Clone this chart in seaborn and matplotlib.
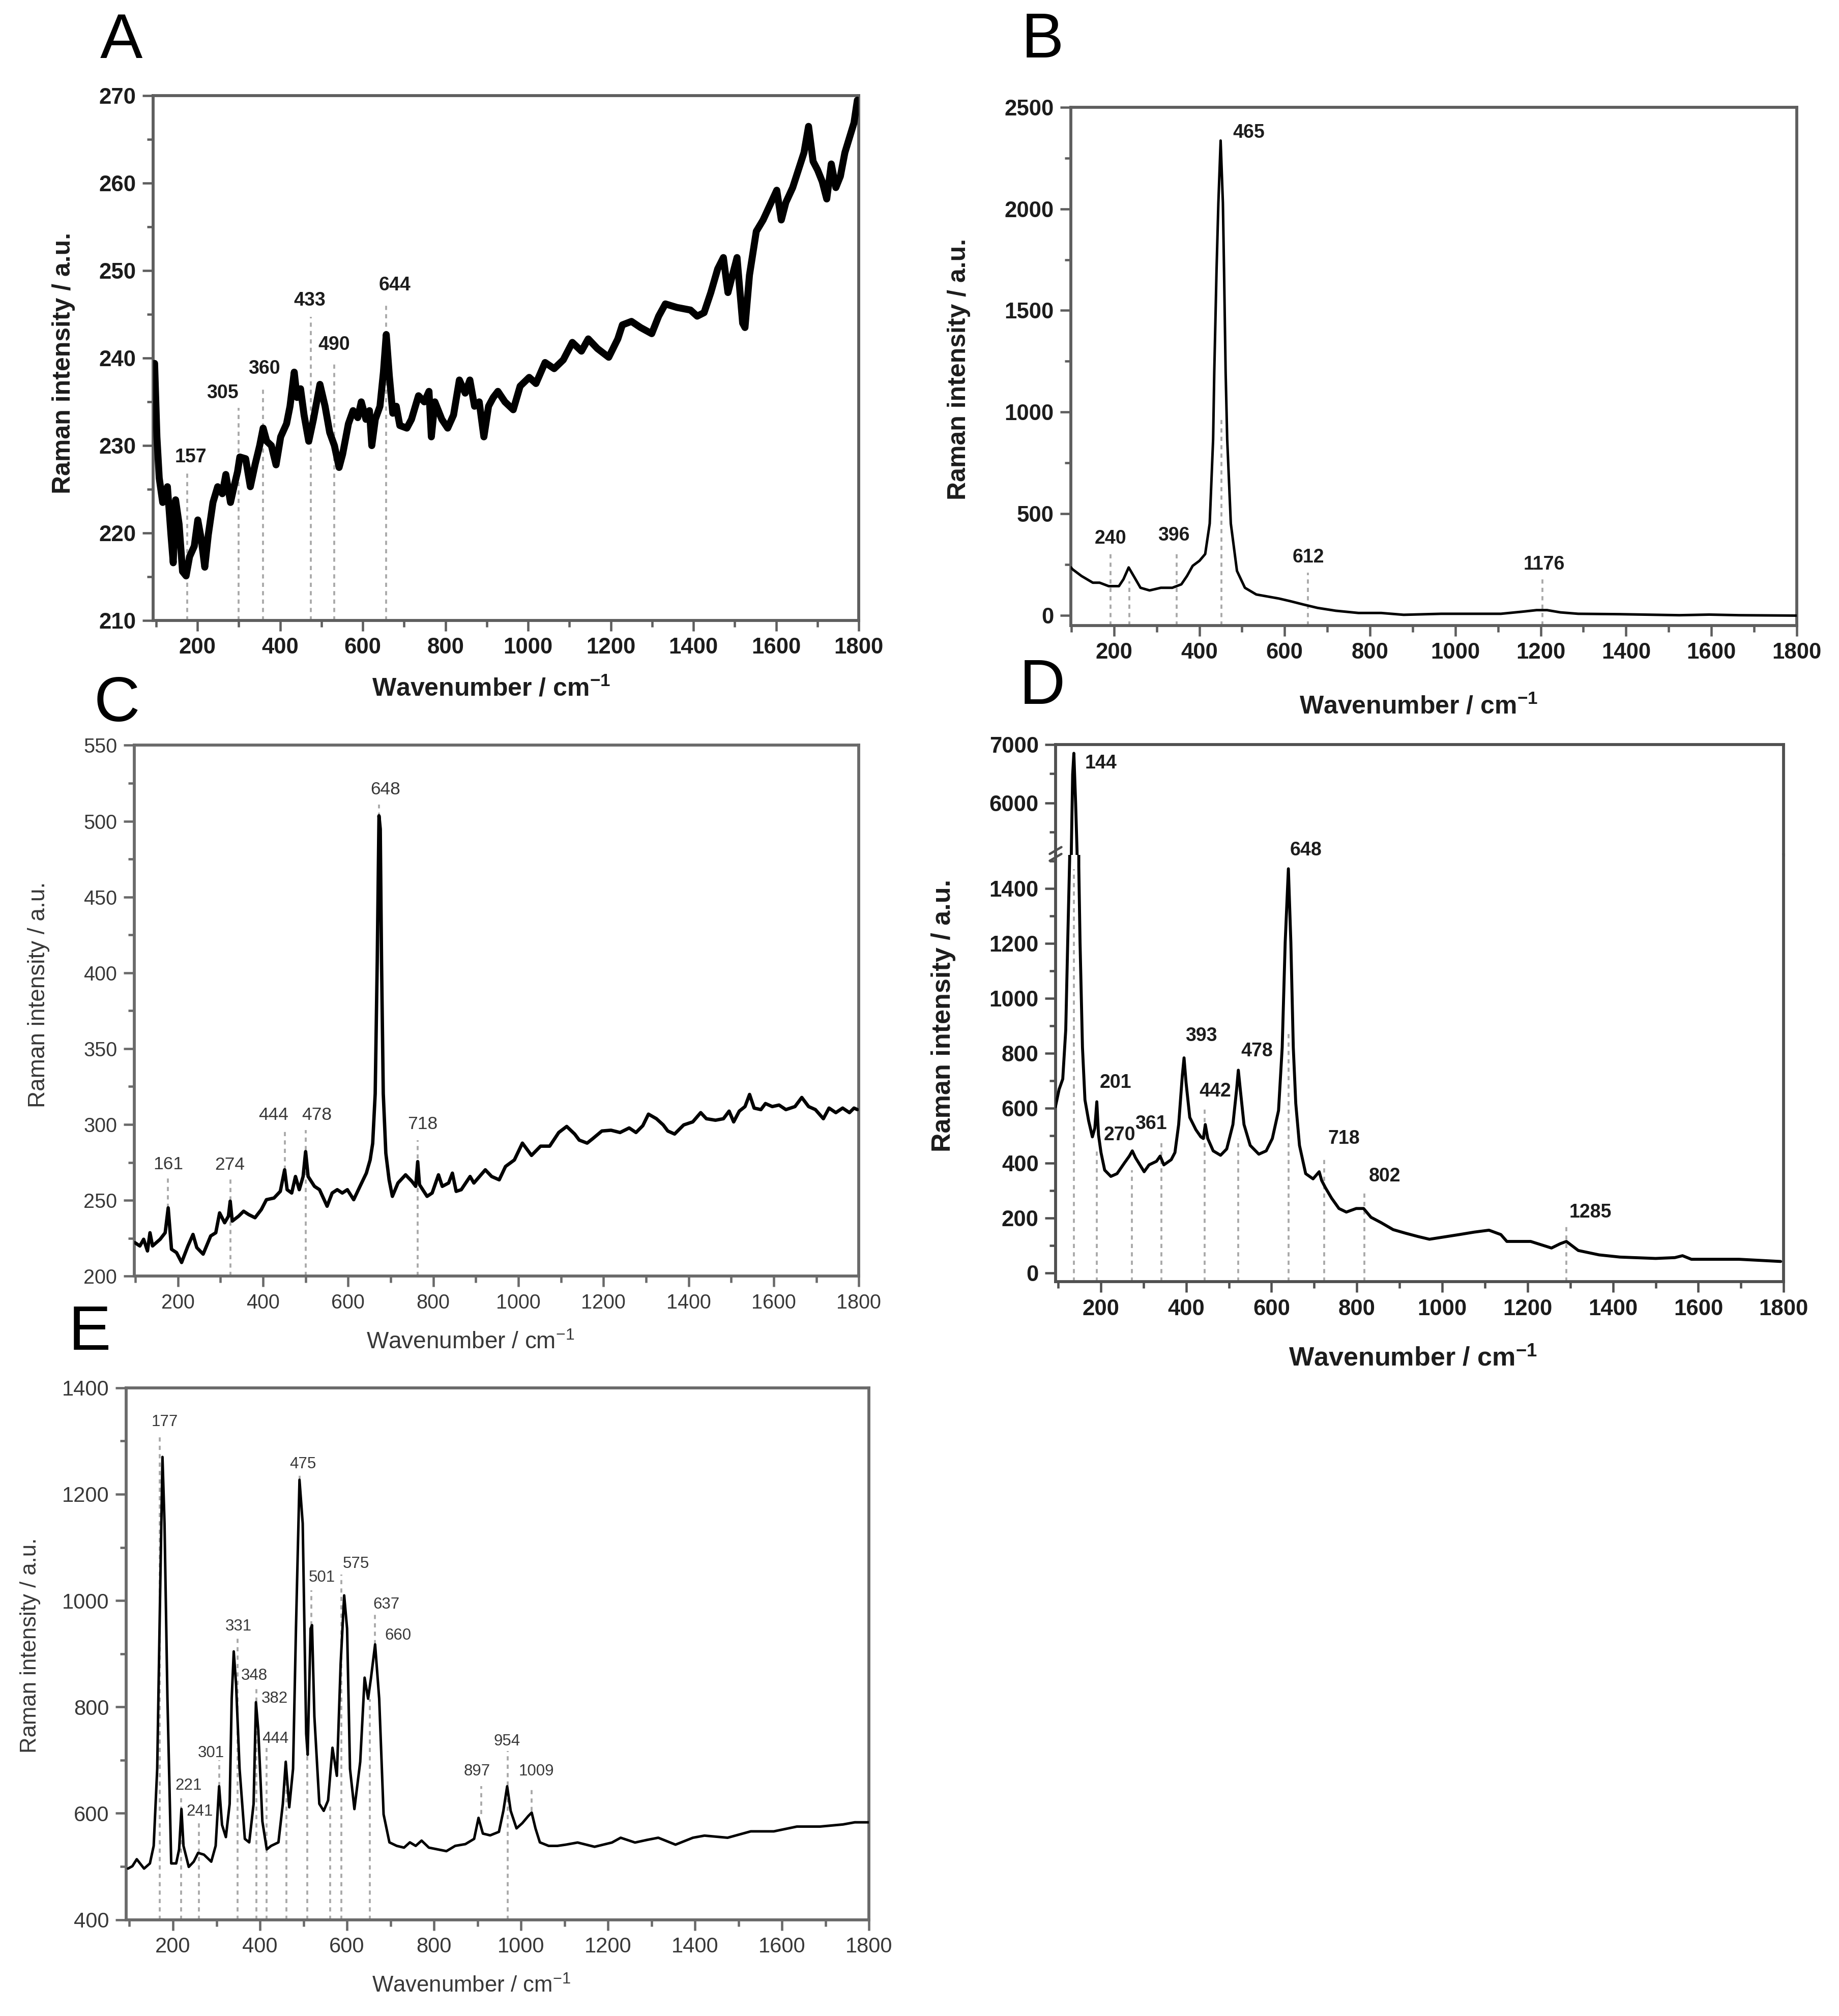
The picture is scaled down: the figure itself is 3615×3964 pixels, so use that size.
import matplotlib
matplotlib.use("Agg")
import matplotlib.pyplot as plt
from matplotlib.ticker import MultipleLocator
import pandas as pd
import seaborn as sns

# ---------------- data ----------------
# Panel A
A_x = [96.4, 102, 107.6, 116, 127.4, 136, 141.5, 147.2, 155.7, 164, 172.6, 181, 192.4, 200.9, 209.3,
       217.8, 226.3, 237.6, 249, 260.2, 268.7, 280, 288.4, 297, 302.6, 316.7, 328, 339.3, 350.6, 359,
       367.6, 378.9, 390.2, 401.4, 415.6, 424, 434.2, 441, 449.5, 458, 469.3, 480.6, 496.4, 508.8, 520,
       531.4, 542.7, 551.2, 565.3, 576.6, 587.9, 596.4, 607.7, 616.2, 621.8, 630.3, 641.6, 650, 656.8,
       664.2, 672.6, 681, 689.6, 706.6, 717.8, 734.8, 748.9, 760.2, 765.9, 774.4, 791.3, 805.4, 819.6,
       833.7, 847.8, 859.1, 870.4, 881.7, 893, 904.3, 915.6, 926.9, 943.9, 964, 980.7, 1002.6, 1019,
       1041, 1063, 1085, 1107, 1129, 1145.5, 1167.5, 1195, 1217, 1228, 1250, 1272, 1299, 1315.8, 1332,
       1359.7, 1392.7, 1409, 1425.7, 1442, 1458.6, 1472.4, 1483.4, 1494.4, 1505.4, 1519, 1524.6, 1535.5,
       1552, 1568.5, 1585, 1601.5, 1612.5, 1623.5, 1640, 1656.4, 1667.4, 1678.4, 1689.4, 1700.4, 1711.4,
       1722.4, 1733.4, 1744.4, 1755.4, 1766.3, 1777.3, 1788.3, 1796.5]
A_y = [239.4, 231.0, 226.3, 223.5, 225.3, 219.8, 216.6, 223.8, 221.0, 215.6, 215.1, 217.3, 218.5, 221.5, 219.3,
       216.1, 219.8, 223.5, 225.3, 224.5, 226.7, 223.5, 225.3, 227.0, 228.7, 228.5, 225.3, 227.8, 230.0, 232.0,
       230.5, 230.0, 227.8, 231.0, 232.5, 234.5, 238.4, 235.5, 236.5, 233.5, 230.5, 233.0, 237.0, 234.5, 231.5,
       230.0, 227.5, 229.0, 232.5, 234.0, 233.2, 235.0, 233.0, 234.0, 230.0, 233.0, 234.5, 238.4, 242.7,
       238.0, 233.7, 234.5, 232.3, 232.0, 233.0, 235.7, 235.0, 236.2, 231.0, 235.0, 233.0, 232.0, 233.5,
       237.5, 236.0, 237.5, 234.5, 235.0, 231.0, 234.5, 235.5, 236.2, 235.0, 234.1, 236.8, 237.8, 237.1,
       239.5, 238.8, 239.8, 241.8, 240.8, 242.2, 241.1, 240.1, 242.2, 243.8, 244.2, 243.5, 242.8, 244.8, 246.2,
       245.8, 245.5, 244.8, 245.2, 247.5, 250.2, 251.5, 247.5, 249.5, 251.5, 244.0, 243.5, 249.5,
       254.5, 255.8, 257.5, 259.2, 255.8, 257.8, 259.5, 261.9, 263.5, 266.5, 262.5, 261.5, 260.2,
       258.2, 262.2, 259.5, 260.8, 263.5, 265.2, 266.9, 269.5]
A_lab_text = ["157", "305", "360", "433", "490", "644"]
A_lab_x = [184, 261, 362, 472, 531, 677]
A_lab_y = [228.7, 236.0, 238.8, 246.6, 241.5, 248.3]
A_mark_x = [175.4, 299.8, 359.0, 473.8, 531.4, 656.8]
A_mark_top = [226.8, 234.3, 236.7, 244.7, 239.6, 246.3]
A_mark_bot = [210, 210, 210, 210, 210, 210]

# Panel B
B_x = [99.5, 102.6, 123.9, 150.5, 166.4, 187.7, 211.6, 222.3, 234.5, 246.2, 262.2, 283.5, 310, 336.7, 358,
       371.2, 384.5, 400.5, 413.8, 424.4, 432.4, 435.1, 440.4, 444.7, 450, 455.3, 458, 461.7, 465.4, 473.9,
       488.3, 506.9, 533.5, 586.7, 613.3, 645.2, 677.1, 719.7, 773, 826, 879, 967, 1106.7, 1160, 1190.4,
       1215, 1246, 1288, 1385.7, 1525, 1595, 1665, 1800]
B_y = [235, 226.5, 193, 160, 160, 143, 143, 177, 235, 193, 135, 122, 135, 135, 152,
       193, 243, 268, 301, 451, 866, 1198, 1697, 2029, 2336, 2029, 1697, 1198, 866, 451,
       218, 135, 102, 82, 69, 52, 36, 22, 11, 11, 2, 7, 7, 18, 25,
       25, 14, 7, 5, 0, 3, 0, -2]
B_lab_text = ["240", "396", "465", "612", "1176"]
B_lab_x = [192, 340, 516, 656, 1208.5]
B_lab_y = [376, 393, 2374, 285, 250]
B_mark_x = [192, 235.6, 347, 452, 654.3, 1204.3]
B_mark_top = [301, 168, 318, 974, 210, 192]
B_mark_bot = [-51, -51, -51, -51, -51, -51]

# Panel C
C_x = [98.7, 110.6, 119.5, 128.5, 134.4, 140.4, 158.2, 170.1, 177.2, 185, 196.8, 208.7, 223.6, 235.5, 244.4,
       259.3, 277.1, 289, 298, 309.8, 318.7, 322.9, 327.7, 342.5, 354.4, 366.3, 381.2, 396, 408, 425.8,
       440.6, 450.8, 456.7, 467.4, 476.3, 485.2, 494.2, 500.1, 506, 520.9, 532.8, 550.6, 562.5, 574.4,
       586.3, 598.2, 613.1, 627.9, 642.8, 651.7, 657.7, 663.6, 668.4, 672.5, 675.5, 678.5, 682.6, 688.6,
       696.3, 704, 717.1, 735, 749.8, 758.8, 763.5, 767.7, 785.5, 797.4, 812.3, 821.2, 836.1, 845, 853.9,
       865.8, 886.6, 895.5, 922.3, 937.2, 955, 969.8, 990.6, 1009.5, 1030.9, 1052.2, 1073.6, 1094.9,
       1113.6, 1132.3, 1143, 1161.6, 1175, 1196.3, 1217.7, 1239, 1260.4, 1276.4, 1292.4, 1305.7, 1324.4,
       1340.4, 1351.1, 1367.1, 1388.5, 1409.8, 1428.5, 1441.8, 1463.2, 1481.9, 1495.2, 1505.9, 1519.2,
       1532.6, 1543.3, 1554, 1569.9, 1580.6, 1596.6, 1612.6, 1628.6, 1650, 1666, 1682, 1698, 1716.7, 1730,
       1746, 1762, 1778, 1788.7, 1796.7]
C_y = [222.1, 219.9, 224.3, 216.6, 228.6, 219.9, 224.3, 228.6, 245, 217.7, 215.5, 209, 219.9, 227.5, 218.8,
       214.5, 226.5, 228.6, 241.7, 235.2, 239.5, 249.4, 236.3, 239.5, 242.8, 240.6, 238.5, 243.9, 250.4, 251.5,
       255.9, 270.1, 257, 254.8, 265.7, 257, 265.7, 282.1, 265.7, 259.2, 257, 246.1, 254.8, 257,
       254.8, 257, 250.4, 259.2, 267.9, 276.6, 287.5, 320.3, 407.5, 503.5, 494.8, 407.5, 320.3, 281,
       263.5, 252.6, 261.4, 266.8, 262.5, 259.2, 275.5, 260.3, 252.6, 254.8, 266.8, 259.2, 261.4, 267.9, 255.9,
       257, 265.7, 261.4, 270.1, 265.7, 263.5, 272.3, 276.6, 287.7, 279.6, 285.7, 285.7, 294.7,
       298.7, 293.7, 289.7, 287.7, 290.7, 295.7, 296.2, 294.7, 297.7, 294.7, 299.2, 306.8, 303.8,
       299.7, 295.7, 293.7, 299.7, 301.7, 307.8, 303.8, 302.8, 303.8, 308.8, 301.7, 308.8,
       311.8, 319.8, 310.8, 309.8, 313.8, 311.8, 312.8, 309.8, 311.8, 317.8, 311.8, 309.8, 303.8, 310.8,
       307.8, 310.8, 307.8, 310.8, 309.8]
C_lab_text = ["161", "274", "444", "478", "648", "718"]
C_lab_x = [177.8, 321.7, 424.6, 526.9, 687.4, 775.4]
C_lab_y = [273.8, 273.4, 306.1, 306.1, 520.9, 300.2]
C_mark_x = [176, 323, 450.8, 500.1, 672.5, 763.5]
C_mark_top = [264.6, 264.6, 296.3, 296.3, 511, 289.7]
C_mark_bot = [245, 200, 270, 200, 503, 200]

# Panel D (broken y axis)
D_x = [93.5, 102.2, 110.8, 117.8, 122.4, 127, 131, 134, 136.8, 140.9, 144.3, 148.4, 151.3, 157, 162.8,
       171.5, 180.2, 186, 190.6, 194.6, 200.4, 209, 223.5, 238, 255.3, 266.8, 273.8, 281.3, 301.5, 313,
       330.4, 339, 347.7, 365, 373.7, 382.4, 391, 395, 399.7, 408.4, 422.8, 434.4, 440.2, 444.8, 450.6,
       463.3, 480.6, 495, 509.5, 518.2, 522.2, 526.8, 535.5, 550, 570.2, 587.5, 601.9, 616.4, 625, 632,
       639.5, 645.3, 651, 656.8, 665.5, 680, 697.3, 711.7, 717.5, 726.2, 740.6, 758, 775.3, 798.4, 815.7,
       833, 856.2, 885, 914, 943, 970, 1039.8, 1075, 1109.5, 1137.4, 1151.4, 1207.2, 1256, 1276.9, 1290.9,
       1318.8, 1367.6, 1416.4, 1500, 1545, 1563, 1583.8, 1695.4, 1793]
D_y = [604, 668, 706, 885, 1204, 1511, 5226, 6491, 6852, 6009, 5166, 1479, 1204, 821, 630,
       553, 495, 527, 623, 502, 438, 374, 351, 361, 400, 425, 444, 419, 368, 393,
       406, 425, 393, 412, 438, 540, 719, 783, 693, 566, 521, 495, 489, 540, 489,
       444, 428, 451, 540, 668, 738, 668, 540, 464, 432, 444, 489, 591, 821, 1204,
       1472, 1204, 821, 617, 464, 361, 342, 368, 336, 310, 272, 234, 221, 234, 234,
       202, 183, 157, 144, 132, 122, 139, 148, 155, 139, 114, 114, 90, 106, 114,
       81, 65, 57, 52, 55, 62, 49, 49, 41]
D_lab_text = ["201", "270", "361", "393", "442", "478", "648", "718", "802", "1285"]
D_lab_x = [235, 243.7, 317.7, 435.5, 467.9, 566.1, 680, 769.5, 864.8, 1346.6]
D_lab_y = [693, 502, 543, 862, 661, 808, 1539, 489, 351, 220]
D_top_text = ["144"]
D_top_x = [200.4]
D_top_y = [6683]
D_mark_x = [136.8, 190.6, 272.6, 341.9, 443, 522.2, 639.5, 723.3, 817.5, 1290.9]
D_mark_top = [1470, 451, 374, 483, 598, 489, 872, 425, 298, 171]
D_mark_bot = [-33, -33, -33, -33, -33, -33, -33, -33, -33, -33]

# Panel E
E_x = [96.6, 106.7, 116.8, 133.6, 147, 155.7, 163.8, 170.5, 175.9, 180.6, 187.3, 196, 207.4, 214.1, 219.5,
       224.2, 236.3, 247.7, 257.8, 271.2, 288, 298.1, 306.1, 312.8, 321.6, 330.3, 335, 339.7, 345.1, 353.1,
       365.2, 375.3, 385.3, 390.7, 396.1, 405.5, 415.6, 425.6, 442.4, 452.5, 459.2, 467.3, 476, 482.7,
       490.8, 498.2, 506.2, 509.6, 516.3, 519.6, 525, 536.4, 546.5, 556.6, 566.6, 576.7, 585.4, 593.5,
       600.2, 606.9, 617, 630.4, 640.5, 648.5, 655.2, 664.6, 674, 684.1, 697.5, 714.3, 731.1, 744.5, 757.9,
       771.4, 788.2, 808.3, 828.5, 848.6, 872.1, 892.2, 902.3, 912.3, 929.1, 949.2, 959.4, 968.1, 976.2,
       989.6, 1003, 1016.5, 1024.5, 1033.2, 1043.3, 1063.4, 1083.6, 1103, 1130, 1169, 1209, 1229, 1262,
       1290, 1315.4, 1355, 1395, 1421.6, 1474.7, 1528, 1581, 1634, 1687, 1740, 1767, 1800]
E_y = [496, 500.5, 513.6, 496, 505.7, 538.7, 683.6, 1013, 1270, 1145, 815.4, 505.7, 505.7, 532.1, 607.9,
       538.7, 499.2, 509, 525.5, 522.2, 509, 538.7, 650.7, 578.2, 555.2, 617.7, 815.4, 904.3, 841.7, 683.6,
       551.9, 545.3, 617.7, 808.8, 756.1, 584.8, 532.1, 538.7, 545.3, 617.7, 696.8, 611.2, 683.6, 947.1,
       1227, 1145, 749.5, 710, 947.1, 953.7, 782.4, 617.7, 604.6, 624.3, 723.2, 670.4, 881.3, 1009.7,
       947.1, 683.6, 607.9, 696.8, 855, 815.4, 855, 917.5, 815.4, 598, 545.3, 538.7, 535.4, 545.3, 538.7,
       548.6, 535.4, 532.1, 528.8, 538.7, 542, 551.9, 591.4, 561.8, 558.5, 565.1, 604.6, 650.7, 604.6,
       571.6, 581.5, 594.7, 601.3, 571.6, 545.3, 538.7, 538.7, 541, 545, 537, 545, 554, 545,
       550, 554, 541, 554, 558, 554, 566, 566, 575, 575, 579, 583, 583]
E_lab_text = ["177", "221", "241", "301", "331", "348", "382", "444", "475", "501", "575", "637", "660",
              "897", "954", "1009"]
E_lab_x = [180.6, 236.3, 261.1, 288, 350.4, 386.7, 433.7, 435.7, 498.1, 541.8, 620.3, 690.8, 717.7,
           899, 968.1, 1035.3]
E_lab_y = [1335.8, 652, 603.3, 713.3, 951.8, 858.2, 815.4, 739.6, 1256.8, 1042.7, 1069, 992, 934,
           678.4, 735, 678.4]
E_mark_x = [169.2, 218.8, 259.8, 306.1, 348.4, 392, 415.6, 460.5, 490.8, 518.3, 508.2, 561.2, 586.8,
            652.6, 664.6, 909, 969.5, 1024.5]
E_mark_top = [1309.5, 631, 585, 700, 930.7, 838.5, 723, 700, 1237, 1019.6, 716, 618, 1049, 815, 973.5,
              651, 716.6, 651]
E_mark_bot = [400, 400, 400, 651, 400, 400, 400, 400, 1227, 953.7, 400, 400, 400, 400, 917.5, 598,
              400, 604.6]

# ---------------- styling ----------------
sns.set_theme(style="ticks")
plt.rcParams["font.family"] = ["Liberation Sans", "DejaVu Sans"]
plt.rcParams["mathtext.fontset"] = "custom"
plt.rcParams["mathtext.rm"] = "Liberation Sans"
plt.rcParams["mathtext.bf"] = "Liberation Sans:bold"
plt.rcParams["mathtext.it"] = "Liberation Sans:italic"

fig = plt.figure(figsize=(3615 / 300, 3964 / 300), dpi=300)
fig.patch.set_facecolor("white")

MARK_COL = "#a8a8a8"
MARK_LS = (0, (2.2, 2.2))


def draw_spectrum(ax, xs, ys, lw):
    df = pd.DataFrame({"x": xs, "y": ys})
    sns.lineplot(data=df, x="x", y="y", ax=ax, color="black", linewidth=lw,
                 estimator=None, sort=False, zorder=3)
    ax.set_xlabel("")
    ax.set_ylabel("")


def draw_marks(ax, xs, tops, bots):
    ax.vlines(xs, bots, tops, colors=MARK_COL, linestyles=MARK_LS, linewidth=0.9, zorder=2)


def draw_labels(ax, texts, xs, ys, fs, bold, col):
    for t, x, y in zip(texts, xs, ys):
        ax.text(x, y, t, ha="center", va="center", fontsize=fs,
                fontweight="bold" if bold else "normal", color=col, zorder=4)


def style_axes(ax, xlim, ylim, xmaj, xmin, ymaj, ymin, bold, tick_fs, spine_col, text_col,
               spine_lw=1.4):
    ax.set_xlim(*xlim)
    ax.set_ylim(*ylim)
    ax.xaxis.set_major_locator(MultipleLocator(xmaj))
    ax.xaxis.set_minor_locator(MultipleLocator(xmin))
    ax.yaxis.set_major_locator(MultipleLocator(ymaj))
    ax.yaxis.set_minor_locator(MultipleLocator(ymin))
    for s in ax.spines.values():
        s.set_visible(True)
        s.set_color(spine_col)
        s.set_linewidth(spine_lw)
    ax.tick_params(axis="both", which="both", direction="out", color=spine_col, width=1.1,
                   labelsize=tick_fs, labelcolor=text_col, top=False, right=False, pad=3)
    ax.tick_params(which="major", length=5)
    ax.tick_params(which="minor", length=3)
    w = "bold" if bold else "normal"
    for lab in ax.get_xticklabels() + ax.get_yticklabels():
        lab.set_fontweight(w)
    ax.grid(False)
    ax.set_facecolor("white")


def set_labels(ax, bold, fs, col, xc, yc):
    if bold:
        xl = r"Wavenumber / cm$^{\mathbf{-1}}$"
    else:
        xl = r"Wavenumber / cm$^{-1}$"
    w = "bold" if bold else "normal"
    ax.set_xlabel(xl, fontsize=fs, fontweight=w, color=col)
    ax.set_ylabel("Raman intensity / a.u.", fontsize=fs, fontweight=w, color=col)
    ax.xaxis.set_label_coords(*xc)
    ax.yaxis.set_label_coords(*yc)
    ax.xaxis.label.set_va("center")
    ax.yaxis.label.set_va("center")


BOLD_TXT = "#1c1c1c"
REG_TXT = "#383838"

# ---- Panel A ----
axA = fig.add_axes([0.0833, 0.6922, 0.3837, 0.2603])
draw_marks(axA, A_mark_x, A_mark_top, A_mark_bot)
draw_spectrum(axA, A_x, A_y, 3.3)
style_axes(axA, (93, 1800), (210, 270), 200, 100, 10, 5, True, 10.5, "#5e5e5e", BOLD_TXT)
draw_labels(axA, A_lab_text, A_lab_x, A_lab_y, 9, True, BOLD_TXT)
set_labels(axA, True, 12, BOLD_TXT, (0.479, -0.130), (-0.127, 0.491))

# ---- Panel B ----
axB = fig.add_axes([0.5823, 0.6897, 0.3947, 0.2571])
draw_marks(axB, B_mark_x, B_mark_top, B_mark_bot)
draw_spectrum(axB, B_x, B_y, 1.2)
style_axes(axB, (99, 1800), (-51, 2500), 200, 100, 500, 250, True, 10.5, "#5e5e5e", BOLD_TXT)
draw_labels(axB, B_lab_text, B_lab_x, B_lab_y, 9, True, BOLD_TXT)
set_labels(axB, True, 12, BOLD_TXT, (0.479, -0.156), (-0.154, 0.495))

# ---- Panel C ----
axC = fig.add_axes([0.0729, 0.3670, 0.3941, 0.2633])
draw_marks(axC, C_mark_x, C_mark_top, C_mark_bot)
draw_spectrum(axC, C_x, C_y, 1.6)
style_axes(axC, (97, 1800), (200, 550), 200, 100, 50, 25, False, 9.5, "#6a6a6a", REG_TXT)
draw_labels(axC, C_lab_text, C_lab_x, C_lab_y, 8.5, False, REG_TXT)
set_labels(axC, False, 11, REG_TXT, (0.464, -0.125), (-0.1315, 0.530))

# ---- Panel D (broken axis) ----
axDu = fig.add_axes([0.5740, 0.5759, 0.3959, 0.0547])
axDl = fig.add_axes([0.5740, 0.3642, 0.3959, 0.2118])
for ax in (axDu, axDl):
    draw_marks(ax, D_mark_x, D_mark_top, D_mark_bot)
    draw_spectrum(ax, D_x, D_y, 1.4)
style_axes(axDl, (94, 1800), (-33, 1523), 200, 100, 200, 100, True, 10.5, "#505050", BOLD_TXT)
style_axes(axDu, (94, 1800), (5103, 7000), 200, 100, 1000, 500, True, 10.5, "#505050", BOLD_TXT)
axDu.spines["bottom"].set_visible(False)
axDl.spines["top"].set_visible(False)
axDu.tick_params(axis="x", which="both", bottom=False, labelbottom=False)
draw_labels(axDl, D_lab_text, D_lab_x, D_lab_y, 9, True, BOLD_TXT)
draw_labels(axDu, D_top_text, D_top_x, D_top_y, 9, True, BOLD_TXT)
set_labels(axDl, True, 12.5, BOLD_TXT, (0.4906, -0.180), (-0.1544, 0.6236))
# break marks on the left spine
for dy in (-0.006, 0.010):
    axDl.plot([-0.008, 0.008], [1.0 + dy - 0.008, 1.0 + dy + 0.008], transform=axDl.transAxes,
              color="#505050", lw=1.1, clip_on=False, zorder=5)

# ---- Panel E ----
axE = fig.add_axes([0.0685, 0.0478, 0.4041, 0.2638])
draw_marks(axE, E_mark_x, E_mark_top, E_mark_bot)
draw_spectrum(axE, E_x, E_y, 1.2)
style_axes(axE, (92, 1800), (400, 1400), 200, 100, 200, 100, False, 10, "#6a6a6a", REG_TXT)
draw_labels(axE, E_lab_text, E_lab_x, E_lab_y, 7.5, False, REG_TXT)
set_labels(axE, False, 10.5, REG_TXT, (0.465, -0.125), (-0.129, 0.516))

# ---- panel letters ----
for letter, x, y in [("A", 0.0659, 0.9793), ("B", 0.567, 0.9796), ("C", 0.0636, 0.6503),
                     ("D", 0.5668, 0.6589), ("E", 0.0487, 0.3385)]:
    fig.text(x, y, letter, fontsize=30, ha="center", va="center", color="black")

fig.savefig("out.png", dpi=300, facecolor="white")
